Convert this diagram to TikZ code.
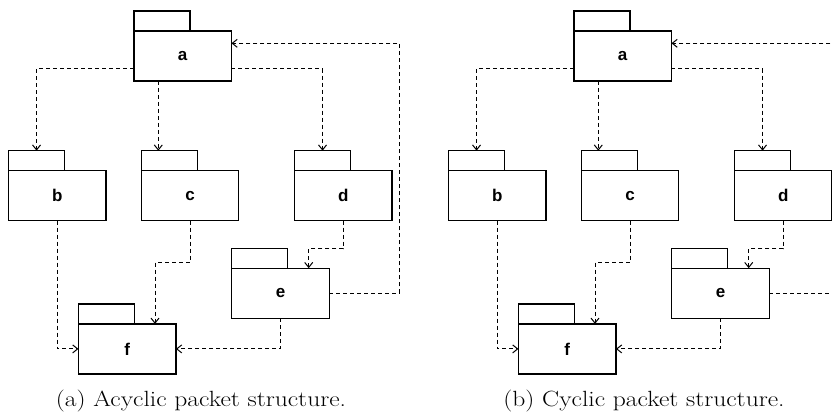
\documentclass[tikz,border=0pt]{standalone}
\usepackage{fontspec}
\newfontfamily\labelfont{Liberation Sans}
\usetikzlibrary{arrows.meta}

\tikzset{
  pkgbody/.style={draw, line width=1.3pt, minimum width=97.5pt, minimum height=50pt,
    inner sep=0pt, outer sep=0pt, font=\labelfont\bfseries\fontsize{17}{19}\selectfont},
  pkgtab/.style={draw, line width=1.3pt, minimum width=56pt, minimum height=20pt,
    inner sep=0pt, outer sep=0pt, anchor=south west},
  dep/.style={line width=1pt, dash pattern=on 4pt off 3pt,
    -{Straight Barb[length=5pt,width=8pt,line width=1pt]}},
  caption/.style={anchor=base, font=\fontsize{22}{24}\selectfont}
}

% One package graph; #1 = name prefix, #2 = horizontal offset
\newcommand\pkggraph[2]{%
  \begin{scope}[xshift=#2]
    \node[pkgbody] (#1a) at (182.7,56)    {a};
    \node[pkgbody] (#1b) at (57.3,195.7)  {b};
    \node[pkgbody] (#1c) at (190,195.7)   {c};
    \node[pkgbody] (#1d) at (343.3,195.7) {d};
    \node[pkgbody] (#1e) at (280.5,293.2) {e};
    \node[pkgbody] (#1f) at (127.2,348.9) {f};
    \foreach \p in {a,b,c,d,e,f}
      \node[pkgtab] (#1\p t) at (#1\p.north west) {};
    \coordinate (#1cf) at (155,262.3);
    \coordinate (#1de) at (308.7,248.7);
    \coordinate (#1ea) at (399.3,43.3);
    % dependencies leaving a
    \draw[dep] ([yshift=-12.7pt]#1a.west) -| (#1bt.north);
    \draw[dep] ([xshift=-24.4pt]#1a.south) -- ([xshift=-24.4pt]#1a.south |- #1ct.north);
    \draw[dep] ([yshift=-12.7pt]#1a.east) -| (#1dt.north);
    % dependencies into f and e
    \draw[dep] (#1b.south) |- (#1f.west);
    \draw[dep] (#1c.south) |- (#1cf) -- (#1cf |- #1f.north);
    \draw[dep] (#1d.south) |- (#1de) -- (#1de |- #1e.north);
    \draw[dep] (#1e.south) |- (#1f.east);
    % back edge from e to a
    \draw[dep] (#1e.east) -| (#1ea) -- (#1ea -| #1a.east);
  \end{scope}}

\begin{document}
\begin{tikzpicture}[x=1pt, y=-1pt]
  \useasboundingbox (0,0) rectangle (832,414);
  \clip (0,0) rectangle (832,414);
  \pkggraph{L}{0pt}
  \pkggraph{R}{440pt}
  \node[caption] (capa) at (201,406) {\scalebox{1.16}[1]{(a) Acyclic packet structure.}};
  \node[caption] (capb) at (644,406) {\scalebox{1.16}[1]{(b) Cyclic packet structure.}};
\end{tikzpicture}
\end{document}
